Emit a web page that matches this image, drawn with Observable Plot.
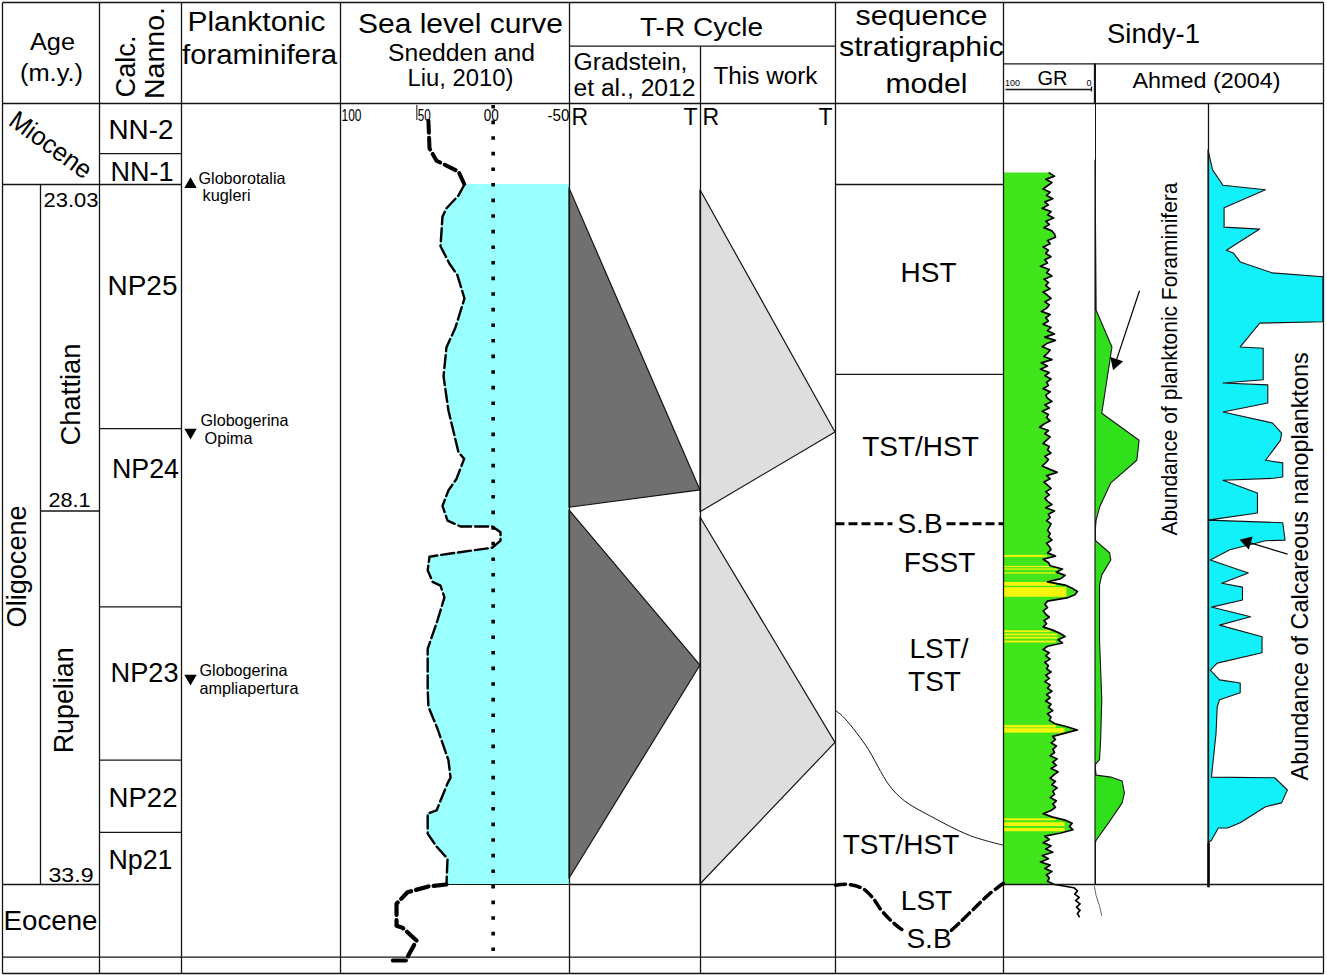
<!DOCTYPE html>
<html><head><meta charset="utf-8">
<script src="https://cdn.jsdelivr.net/npm/d3@7"></script>
<script src="https://cdn.jsdelivr.net/npm/@observablehq/plot@0.6"></script>
<style>
body{margin:0;background:#fff;}
#chart{position:relative;width:1327px;height:975px;overflow:hidden;background:#fff;}
</style></head><body><div id="chart"></div>
<script>
// ================= DATA =================
// Calcareous nannofossil zones (base age, m.y.)
const nannoNames = ["NN-2","NN-1","NP25","NP24","NP23","NP22","Np21"];
const nannoBase  = [22.55, 23.03, 26.82, 29.59, 31.97, 33.09, 35.03];
const nannoLabelAge = [22.18, 22.83, 24.61, 27.44, 30.62, 32.55, 33.51];
// Epochs / stages / age ticks
const epochNames = ["Miocene","Oligocene","Eocene"];
const epochLabelAge = [22.42, 28.96, 34.48];
const stageNames = ["Chattian","Rupelian"];
const stageBase = [28.1, 33.9];
const stageLabelAge = [26.29, 31.04];
const ageTicks = [23.03, 28.1, 33.9];
const ageTickLabels = ["23.03","28.1","33.9"];
const ageTickLabelAge = [23.28, 27.94, 33.76];
// Planktonic foraminifera events
const foramEventNames = [["Globorotalia","kugleri"],["Globogerina","Opima"],["Globogerina","ampliapertura"]];
const foramEventAge = [23.03, 26.88, 30.70];
const foramEventType = ["FO","LO","LO"];
const foramEventTextAge = [[22.94, 23.20],[26.70, 26.97],[30.58, 30.86]];
// Sea level curve (Snedden and Liu, 2010), metres
const seaTickValues = [100, 50, 0, -50];
const seaTickLabels = ["100","50","00","-50"];
const seaAge = [22.04,22.47,22.66,22.83,23.03,23.20,23.40,23.53,23.99,24.26,24.44,24.80,25.25,25.56,26.01,26.54,27.19,27.29,27.60,27.78,28.02,28.25,28.34,28.34,28.43,28.56,28.67,28.76,28.81,29.02,29.20,29.26,29.44,29.80,30.24,30.86,31.14,31.48,31.97,32.24,32.33,32.75,32.80,33.11,33.31,33.50,33.90,33.93,34.02,34.20,34.54,34.57,34.77,35.00,35.08,35.08];
const seaLevel = [42.4,41.7,37.1,22.7,18.8,22.7,30.6,33.2,34.5,28.6,23.4,18.8,24.7,30.6,32.5,29.3,22.7,19.0,24.0,29.3,33.2,29.9,21.4,0.5,-4.8,-4.8,0.5,27.9,41.7,42.9,39.7,34.5,31.9,36.5,42.9,42.9,42.4,36.5,29.3,27.9,29.9,37.1,42.9,42.9,37.1,29.9,30.6,42.4,56.1,63.3,63.3,59.4,50.2,55.5,56.8,68.6];
// T-R cycles: [start (R), maximum transgression (T), end (R)]
const trLabels = ["R","T"];
const gradsteinCycles = [[23.09, 27.78, 28.05],[28.09, 30.50, 33.81]];
const thisWorkCycles  = [[23.12, 26.88, 28.12],[28.20, 31.70, 33.90]];
// Sequence stratigraphic model
const seqNames = ["HST","TST/HST","S.B","FSST","LST/","TST","TST/HST","LST","S.B"];
const seqLabelAge = [24.41, 27.11, 28.31, 28.91, 30.25, 30.75, 33.28, 34.16, 34.74];
const hstBaseAge = 25.98;
const sbAge = 28.30;
const seqCurveAge = [31.20, 31.28, 31.74, 32.36, 32.60, 32.83, 33.14, 33.29];
const seqCurvePos = [0.0, 0.04, 0.18, 0.32, 0.41, 0.56, 0.80, 1.0];
const lowerSbLeftAge  = [33.91, 33.90, 33.96, 34.10, 34.29, 34.46, 34.59, 34.63];
const lowerSbLeftPos  = [0.0, 0.08, 0.16, 0.22, 0.27, 0.33, 0.39, 0.42];
const lowerSbRightAge = [34.61, 34.49, 34.26, 34.06, 33.88];
const lowerSbRightPos = [0.69, 0.74, 0.83, 0.91, 1.0];
// Sindy-1 gamma ray log (API, 100 left -> 0 right)
const grAge = [
22.85,22.90,22.95,23.00,23.05,23.10,23.15,23.20,23.25,23.30,23.35,23.40,23.45,23.50,23.55,23.60,23.65,23.70,23.75,23.80,
23.85,23.90,23.95,24.00,24.05,24.10,24.15,24.20,24.25,24.30,24.35,24.40,24.45,24.50,24.55,24.60,24.65,24.70,24.75,24.80,
24.85,24.90,24.95,25.00,25.05,25.10,25.15,25.20,25.25,25.30,25.35,25.40,25.45,25.50,25.55,25.60,25.65,25.70,25.75,25.80,
25.85,25.90,25.95,26.00,26.05,26.10,26.15,26.20,26.25,26.30,26.35,26.40,26.45,26.50,26.55,26.60,26.65,26.70,26.75,26.80,
26.85,26.90,26.95,27.00,27.05,27.10,27.15,27.20,27.25,27.30,27.35,27.40,27.45,27.50,27.55,27.60,27.65,27.70,27.75,27.80,
27.85,27.90,27.95,28.00,28.05,28.10,28.15,28.20,28.25,28.30,28.35,28.40,28.45,28.50,28.55,28.60,28.65,28.70,28.75,28.80,
28.85,28.90,28.95,29.00,29.05,29.10,29.15,29.20,29.25,29.30,29.35,29.40,29.45,29.50,29.55,29.60,29.65,29.70,29.75,29.80,
29.85,29.90,29.95,30.00,30.05,30.10,30.15,30.20,30.25,30.30,30.35,30.40,30.45,30.50,30.55,30.60,30.65,30.70,30.75,30.80,
30.85,30.90,30.95,31.00,31.05,31.10,31.15,31.20,31.25,31.30,31.35,31.40,31.45,31.50,31.55,31.60,31.65,31.70,31.75,31.80,
31.85,31.90,31.95,32.00,32.05,32.10,32.15,32.20,32.25,32.30,32.35,32.40,32.45,32.50,32.55,32.60,32.65,32.70,32.75,32.80,
32.85,32.90,32.95,33.00,33.05,33.10,33.15,33.20,33.25,33.30,33.35,33.40,33.45,33.50,33.55,33.60,33.65,33.70,33.75,33.80,
33.85,33.90,33.95,34.00,34.05,34.10,34.15,34.20,34.25,34.30,34.35,34.40];
const grValue = [
48,42,52,45,50,55,47,51,44,53,49,56,46,50,43,52,48,54,45,42,
41,50,47,55,49,52,46,53,50,58,48,51,45,54,49,52,47,55,50,46,
53,48,51,57,47,52,49,55,46,50,42,53,41,51,56,47,50,54,45,57,
50,58,48,53,46,51,49,55,47,52,50,45,53,48,56,49,51,47,54,59,
49,53,47,51,55,48,50,46,53,49,52,56,48,39,51,47,54,50,46,52,
48,53,50,45,52,42,49,47,51,46,48,50,47,49,45,51,48,46,50,41,
55,49,47,33,40,30,35,50,30,22,16,19,28,50,53,50,55,52,48,54,
51,55,44,36,30,38,33,50,55,48,52,47,53,49,51,46,52,48,53,47,
50,45,51,47,52,46,49,44,50,46,48,42,28,16,30,44,41,46,40,44,
42,47,39,44,40,46,38,43,47,41,45,39,44,42,47,40,44,41,46,55,
45,30,22,25,21,35,53,48,55,46,52,44,56,49,58,47,53,45,51,48,
50,42,20,16,19,14,18,13,17,13,16,14];
// sandy (yellow) intervals on the GR log
const bandTop   = [28.79,28.96,29.00,29.06,29.21,29.29,29.96,30.01,30.06,30.12,31.43,31.48,32.88,32.94,33.03];
const bandBase  = [28.82,28.98,29.02,29.08,29.27,29.44,29.99,30.04,30.09,30.15,31.47,31.55,32.91,33.00,33.08];
const bandReach = [50,45,38,40,40,28,46,38,38,40,40,30,40,30,30];
// Ahmed (2004): abundance of planktonic foraminifera (relative)
const foramAge   = [22.66,24.99,25.56,26.59,27.01,27.32,27.52,27.67,28.05,28.25,28.45,28.56,28.76,28.87,29.10,29.26,30.11,31.04,31.66,31.97,32.05,32.21,32.24,32.30,32.49,32.64,32.95,33.22,33.29,33.90];
const foramAbund = [0,1,15,6,39,37,24,14,4,1,0,0,13,14,6,4,4,6,5,4,0,1,14,24,26,24,12,1,0,0];
const foramTailAge = [33.93,34.07,34.23,34.38];
const foramTailAbund = [-1,0.5,3.5,5.5];
// Ahmed (2004): abundance of calcareous nannoplankton (relative)
const nannoAge = [22.50,22.81,23.05,23.12,23.40,23.70,23.73,24.06,24.10,24.24,24.41,24.47,25.17,25.19,25.56,25.58,26.07,26.12,26.15,26.43,26.57,26.74,26.90,27.01,27.32,27.36,27.58,27.60,27.63,27.83,28.14,28.25,28.29,28.56,28.57,28.71,28.87,29.07,29.23,29.29,29.49,29.60,29.75,29.88,30.06,30.31,30.47,30.58,30.73,30.78,30.93,31.04,31.15,31.56,32.24,32.25,32.44,32.64,32.70,32.95,33.03,33.03,33.22,33.26];
const nannoAbund = [0,4,13,50,14,14,45,16,22,28,56,100,100,45,28,48,48,13,52,52,13,56,64,63,50,65,65,57,13,43,43,0,65,67,50,19,2,35,12,30,30,3,37,10,47,47,8,2,10,28,28,10,8,7,3,58,69,64,50,28,17,9,3,0];

// ================= LAYOUT =================
const W = 1327, H = 975;
const PX_PER_MY = 700 / (33.9 - 23.03);       // 23.03 Ma at row 184, 33.9 Ma at row 884
const AGE0 = 23.03 - 184 / PX_PER_MY;
const ageAt = px => AGE0 + px / PX_PER_MY;
const Y = {domain: [AGE0, AGE0 + H / PX_PER_MY], range: [0, H], axis: null};
const COL = {L: 2, age: 99, sub: 40, nanno: 181, plank: 340, sea: 569, trg: 700, seq: 835, sindy: 1003, gr: 1091, foram: 1095, nan: 1208, R: 1323};
const ROW = {top: 2, hdr: 103, trSplit: 45.7, sindySplit: 63.3, botRow: 956.7, bot: 973};
const FONT = "'Liberation Sans', Arial, Helvetica, sans-serif";
const INK = "#141414";
const chart = document.getElementById("chart");

function mount(svg, left, widths) {
  Object.assign(svg.style, {position: "absolute", left: left + "px", top: "0px", overflow: "visible",
    background: "transparent", fontFamily: FONT, maxWidth: "none"});
  if (widths) svg.querySelectorAll("text").forEach(t => {
    const w = widths[t.textContent];
    if (w) { t.setAttribute("textLength", w); t.setAttribute("lengthAdjust", "spacingAndGlyphs"); }
  });
  chart.appendChild(svg);
}
function panel(left, width, xDomain, marks, widths) {
  mount(Plot.plot({width, height: H, margin: 0, x: {domain: xDomain, range: [0, width], axis: null}, y: Y, marks}), left, widths);
}

// ---------- Sea level panel ----------
const seaData = seaAge.map((a, i) => ({age: a, sea: seaLevel[i]}));
const seaTop = seaData.filter(d => d.age <= 23.03);
const seaMid = seaData.filter(d => d.age >= 23.03 && d.age <= 33.9);
const seaBot = seaData.filter(d => d.age >= 33.9);
const seaTicks = seaTickValues.map((v, i) => ({v, label: seaTickLabels[i]}));
panel(COL.plank, COL.sea - COL.plank, [100, -50], [
  Plot.areaX(seaMid, {y: "age", x1: "sea", x2: -50, fill: "#99ffff"}),
  Plot.link([seaMid[seaMid.length - 1]], {x1: "sea", x2: -50, y1: "age", y2: "age", stroke: INK, strokeWidth: 1}),
  Plot.ruleX([0], {y1: ageAt(105), y2: ageAt(963), stroke: "#000", strokeWidth: 3.6, strokeDasharray: "3.6,12"}),
  Plot.ruleX([50], {y1: ageAt(105), y2: ageAt(120), stroke: INK, strokeWidth: 1}),
  Plot.line(seaTop, {x: "sea", y: "age", stroke: "#000", strokeWidth: 4, strokeDasharray: "12,5"}),
  Plot.line(seaMid, {x: "sea", y: "age", stroke: "#000", strokeWidth: 2.4, strokeDasharray: "13,4"}),
  Plot.line(seaBot, {x: "sea", y: "age", stroke: "#000", strokeWidth: 4.2, strokeDasharray: "13,5"}),
  Plot.text(seaTicks.filter(d => d.v === 100), {x: "v", y: ageAt(115), text: "label", textAnchor: "start", dx: 1, fontSize: 17}),
  Plot.text(seaTicks.filter(d => d.v === 50), {x: "v", y: ageAt(115), text: "label", textAnchor: "start", dx: 1, fontSize: 17}),
  Plot.text(seaTicks.filter(d => d.v === 0), {x: "v", y: ageAt(115), text: "label", textAnchor: "middle", dx: -2, fontSize: 17}),
  Plot.text(seaTicks.filter(d => d.v === -50), {x: "v", y: ageAt(115), text: "label", textAnchor: "end", dx: 0, fontSize: 17})
], {"100": 20, "50": 13, "00": 15, "-50": 22});

// ---------- T-R cycle panels ----------
function trPanel(left, width, cycles, fill) {
  const pts = cycles.flatMap((c, k) => [{age: c[0], v: 0, k}, {age: c[1], v: 1, k}, {age: c[2], v: 0, k}]);
  panel(left, width, [0, 1], [
    Plot.areaX(pts, {y: "age", x1: 0, x2: "v", z: "k", fill, stroke: INK, strokeWidth: 1.2}),
    Plot.text([trLabels[0]], {x: 0, y: ageAt(117), text: d => d, textAnchor: "start", dx: 2, fontSize: 23}),
    Plot.text([trLabels[1]], {x: 1, y: ageAt(117), text: d => d, textAnchor: "end", dx: -3, fontSize: 23})
  ]);
}
trPanel(COL.sea, COL.trg - COL.sea, gradsteinCycles, "#707070");
trPanel(COL.trg, COL.seq - COL.trg, thisWorkCycles, "#dedede");

// ---------- GR panel ----------
const grData = grAge.map((a, i) => ({age: a, gr: grValue[i]}));
const bands = bandTop.map((t, i) => ({t, b: bandBase[i], r: bandReach[i]}));
panel(COL.sindy, COL.gr - COL.sindy, [100, 0], [
  Plot.areaX(grData.filter(d => d.age <= 33.9), {y: "age", x1: 100, x2: "gr", fill: "#41e51c"}),
  Plot.rect(bands, {x1: 100, x2: "r", y1: "t", y2: "b", fill: "#f4f40c"}),
  Plot.line(grData, {x: "gr", y: "age", stroke: "#000", strokeWidth: 1.7})
]);

// ---------- Foraminifera abundance ----------
const foramData = foramAge.map((a, i) => ({age: a, v: foramAbund[i]}));
const foramTail = foramTailAge.map((a, i) => ({age: a, v: foramTailAbund[i]}));
panel(COL.foram, COL.nan - COL.foram, [0, 100], [
  Plot.ruleX([0], {y1: ageAt(ROW.sindySplit), y2: 33.9, stroke: INK, strokeWidth: 1}),
  Plot.areaX(foramData, {y: "age", x1: 0, x2: "v", fill: "#2fe01a", stroke: INK, strokeWidth: 1.1}),
  Plot.line(foramTail, {x: "v", y: "age", stroke: "#666", strokeWidth: 1})
]);

// ---------- Nannoplankton abundance ----------
const nannoData = nannoAge.map((a, i) => ({age: a, v: nannoAbund[i]}));
panel(COL.nan, COL.R - COL.nan, [0, 100], [
  Plot.areaX(nannoData, {y: "age", x1: 0, x2: "v", fill: "#12f0fa", stroke: INK, strokeWidth: 1.1}),
  Plot.ruleX([0], {y1: ageAt(ROW.hdr), y2: 33.95, stroke: INK, strokeWidth: 1.3}),
  Plot.ruleX([0], {y1: 33.26, y2: 33.95, stroke: "#000", strokeWidth: 2.6})
]);

// ---------- Table frame and header (layout units) ----------
const vLines = [COL.L, COL.age, COL.nanno, COL.plank, COL.sea, COL.seq, COL.sindy, COL.R];
const frameSegs = [
  ...[ROW.top, ROW.hdr, ROW.botRow, ROW.bot].map(y => ({x1: COL.L, x2: COL.R, y1: y, y2: y})),
  {x1: COL.sea, x2: COL.seq, y1: ROW.trSplit, y2: ROW.trSplit},
  {x1: COL.sindy, x2: COL.R, y1: ROW.sindySplit, y2: ROW.sindySplit},
  ...vLines.map(x => ({x1: x, x2: x, y1: ROW.top, y2: ROW.bot})),
  {x1: COL.trg, x2: COL.trg, y1: ROW.trSplit, y2: ROW.bot},
  {x1: COL.foram - 1, x2: COL.foram - 1, y1: ROW.sindySplit, y2: ROW.hdr},
  {x1: COL.sindy + 2, x2: COL.gr, y1: 89, y2: 89},
  {x1: COL.gr, x2: COL.gr, y1: 86, y2: 91}
];
const headerText = [
  ["Age",52,42,23.5],["(m.y.)",51,73,23],["Planktonic",256,22,27],["foraminifera",259,55,27],
  ["Sea level curve",460,23.5,27],["Snedden and",461,53,23],["Liu, 2010)",460,78,23],
  ["T-R Cycle",701,27,26.5],["Gradstein,",630,62,23.5],["et al., 2012",634,88,23.5],["This work",765,76,23.5],
  ["sequence",921,16,28],["stratigraphic",921,47,28],["model",926,83,28.5],
  ["Sindy-1",1153,34,28],["GR",1052,78,21],["Ahmed (2004)",1206,80,22.5],["100",1012,83,9],["0",1088.5,83,9]
].map(([t, x, y, fs]) => ({t, x, y, fs}));
const headerRot = [["Calc.",126,66,28],["Nanno.",155,52.5,28]].map(([t, x, y, fs]) => ({t, x, y, fs}));
mount(Plot.plot({width: W, height: H, margin: 0,
  x: {domain: [0, W], range: [0, W], axis: null}, y: {domain: [0, H], range: [0, H], axis: null},
  marks: [
    Plot.link(frameSegs, {x1: "x1", x2: "x2", y1: "y1", y2: "y2", stroke: INK, strokeWidth: 1.3}),
    Plot.text(headerText, {x: "x", y: "y", text: "t", fontSize: d => d.fs}),
    Plot.text(headerRot, {x: "x", y: "y", text: "t", fontSize: d => d.fs, rotate: -90})
  ]}), 0,
  {"Age":45,"(m.y.)":63,"Calc.":62,"Nanno.":92,"Planktonic":138,"foraminifera":155,"Sea level curve":205,
   "Snedden and":147,"Liu, 2010)":106,"T-R Cycle":123,"Gradstein,":114,"et al., 2012":122,"This work":104,
   "sequence":132,"stratigraphic":165,"model":82,"Sindy-1":93,"GR":30,"Ahmed (2004)":148,"100":15});

// ---------- Stratigraphic columns (x layout, y age) ----------
const ageLines = [
  {x1: COL.L, x2: COL.nanno, age: 23.03},
  {x1: COL.seq, x2: COL.sindy, age: 23.03},
  ...nannoBase.slice(0, -1).filter(a => a !== 23.03).map(a => ({x1: COL.age, x2: COL.nanno, age: a})),
  {x1: COL.sub, x2: COL.age, age: stageBase[0]},
  {x1: COL.L, x2: COL.age, age: 33.9},
  {x1: COL.sea, x2: COL.seq, age: 33.9},
  {x1: COL.sindy, x2: COL.R, age: 33.9},
  {x1: COL.seq, x2: COL.sindy, age: hstBaseAge}
];
const nannoX = [140.5, 141.5, 142, 145, 144, 142.5, 140];
const nannoLabels = nannoNames.map((n, i) => ({t: n, x: nannoX[i], age: nannoLabelAge[i]}));
const tickLabels = ageTicks.map((a, i) => ({t: ageTickLabels[i], x: [70.5, 69, 70.5][i], age: ageTickLabelAge[i]}));
const unitRot = [
  {t: epochNames[1], x: 17, age: epochLabelAge[1]},
  {t: stageNames[0], x: 71, age: stageLabelAge[0]},
  {t: stageNames[1], x: 64, age: stageLabelAge[1]}
];
const events = foramEventAge.map((a, i) => ({age: a, type: foramEventType[i]}));
const eventText = foramEventNames.flatMap((nm, i) => nm.map((t, j) => ({t, age: foramEventTextAge[i][j], x: [[198, 202], [200, 204], [199, 199]][i][j]})));
const seqX = [928, 920, 919.5, 939, 938.5, 934, 900.5, 926, 928.5];
const seqLabels = seqNames.map((t, i) => ({t, x: seqX[i], age: seqLabelAge[i]}));
const seqW = COL.sindy - COL.seq;
const seqCurve = seqCurveAge.map((a, i) => ({age: a, x: COL.seq + seqCurvePos[i] * seqW}));
const sbLeft = lowerSbLeftAge.map((a, i) => ({age: a, x: COL.seq + lowerSbLeftPos[i] * seqW}));
const sbRight = lowerSbRightAge.map((a, i) => ({age: a, x: COL.seq + lowerSbRightPos[i] * seqW}));
const arrows = [
  {x1: 1139, a1: 24.68, x2: 1115, a2: 25.80, rot: 198},
  {x1: 1287, a1: 28.77, x2: 1246.5, a2: 28.58, rot: -73.5}
];
mount(Plot.plot({width: W, height: H, margin: 0,
  x: {domain: [0, W], range: [0, W], axis: null}, y: Y,
  marks: [
    Plot.link(ageLines, {x1: "x1", x2: "x2", y1: "age", y2: "age", stroke: INK, strokeWidth: 1.3}),
    Plot.ruleX([COL.sub], {y1: 23.03, y2: 33.9, stroke: INK, strokeWidth: 1.3}),
    Plot.text(nannoLabels, {x: "x", y: "age", text: "t", fontSize: 28.5}),
    Plot.text(tickLabels, {x: "x", y: "age", text: "t", fontSize: 21}),
    Plot.text(unitRot, {x: "x", y: "age", text: "t", fontSize: 28, rotate: -90}),
    Plot.text([{t: epochNames[0]}], {x: 50, y: epochLabelAge[0], text: "t", fontSize: 26, rotate: 36}),
    Plot.text([{t: epochNames[2]}], {x: 50, y: epochLabelAge[2], text: "t", fontSize: 27}),
    Plot.dot(events, {x: 190, y: "age", symbol: "triangle", r: 4.6, fill: "#000", stroke: "none", rotate: d => d.type === "FO" ? 0 : 180}),
    Plot.text(eventText, {x: "x", y: "age", text: "t", fontSize: 16.5, textAnchor: "start"}),
    Plot.link([0, 1], {x1: d => d ? 946 : COL.seq, x2: d => d ? COL.sindy : 892, y1: sbAge, y2: sbAge, stroke: "#000", strokeWidth: 3, strokeDasharray: "9,4"}),
    Plot.line(seqCurve, {x: "x", y: "age", curve: "catmull-rom", stroke: INK, strokeWidth: 1}),
    Plot.line(sbLeft, {x: "x", y: "age", curve: "catmull-rom", stroke: "#000", strokeWidth: 3.5, strokeDasharray: "10,5"}),
    Plot.line(sbRight, {x: "x", y: "age", curve: "catmull-rom", stroke: "#000", strokeWidth: 3.5, strokeDasharray: "10,5"}),
    Plot.text(seqLabels, {x: "x", y: "age", text: "t", fontSize: 28}),
    Plot.link(arrows, {x1: "x1", y1: "a1", x2: "x2", y2: "a2", stroke: "#000", strokeWidth: 1.2}),
    Plot.dot(arrows, {x: "x2", y: "a2", symbol: "triangle", r: 5, fill: "#000", stroke: "none", rotate: "rot"}),
    Plot.text([{t: "Abundance of planktonic Foraminifera"}], {x: 1169, y: 25.74, text: "t", fontSize: 22, rotate: -90}),
    Plot.text([{t: "Abundance of Calcareous nanoplanktons"}], {x: 1300, y: 28.96, text: "t", fontSize: 24, rotate: -90})
  ]}), 0,
  {"NN-2":65,"NN-1":63,"NP25":70,"NP24":67,"NP23":68,"NP22":69,"Np21":64,"23.03":55,"28.1":42,"33.9":45,
   "Oligocene":122,"Chattian":102,"Rupelian":106,"Eocene":94,"Miocene":95,"Globorotalia":87,"kugleri":48,
   "Globogerina":88,"Opima":48,"ampliapertura":99,"Abundance of planktonic Foraminifera":353,
   "Abundance of Calcareous nanoplanktons":428});
</script></body></html>
